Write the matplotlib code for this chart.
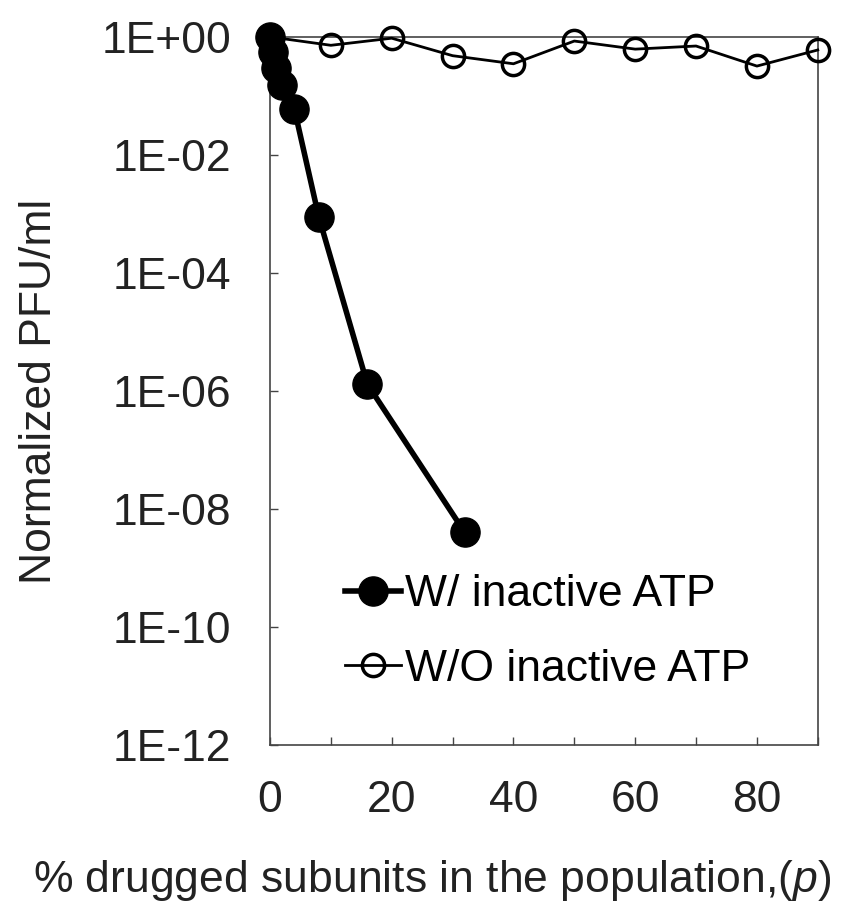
import matplotlib
matplotlib.use("Agg")
import matplotlib.pyplot as plt

plt.rcParams['font.family'] = ['Liberation Sans', 'DejaVu Sans']
plt.rcParams['mathtext.fontset'] = 'custom'
plt.rcParams['mathtext.it'] = 'Liberation Sans:italic'
plt.rcParams['mathtext.rm'] = 'Liberation Sans'

# data
x_with = [0, 0.5, 1, 2, 4, 8, 16, 32]
y_with = [1.0, 0.55, 0.3, 0.15, 0.06, 9e-4, 1.3e-6, 4e-9]

x_without = [0, 10, 20, 30, 40, 50, 60, 70, 80, 90]
y_without = [1.0, 0.72, 0.95, 0.48, 0.35, 0.85, 0.62, 0.7, 0.32, 0.6]

xticks = [0, 10, 20, 30, 40, 50, 60, 70, 80, 90]
xticklabels = ['0', '', '20', '', '40', '', '60', '', '80', '']
yticks = [1e0, 1e-2, 1e-4, 1e-6, 1e-8, 1e-10, 1e-12]
yticklabels = ['1E+00', '1E-02', '1E-04', '1E-06', '1E-08', '1E-10', '1E-12']

fig = plt.figure(figsize=(8.64, 9.22), dpi=100)
ax = fig.add_axes([0.3125, 0.192, 0.634, 0.768])

ax.plot(x_with, y_with, color='black', lw=4, marker='o', markersize=21,
        label='W/ inactive ATP', clip_on=False, zorder=4)
ax.plot(x_without, y_without, color='black', lw=2, marker='o', markersize=16,
        markerfacecolor='none', markeredgewidth=2.5,
        label='W/O inactive ATP', clip_on=False, zorder=3)

ax.set_yscale('log')
ax.set_ylim(1e-12, 1)
ax.set_xlim(0, 90)
ax.set_yticks(yticks)
ax.set_yticklabels(yticklabels)
ax.minorticks_off()
ax.set_xticks(xticks)
ax.set_xticklabels(xticklabels)

ax.tick_params(direction='in', length=6, width=1, colors='#444444',
               labelcolor='#222222', labelsize=32)
ax.tick_params(axis='x', pad=25)
ax.tick_params(axis='y', pad=28)
for sp in ax.spines.values():
    sp.set_color('#444444')
    sp.set_linewidth(1.2)
    sp.set_linestyle((0, (1, 1)))

ax.set_ylabel('Normalized PFU/ml', fontsize=32, color='#222222', labelpad=30)
fig.text(0.5, 0.045, r'% drugged subunits in the population,($\mathit{p}$)',
         fontsize=32, color='#222222', ha='center', va='center')

ax.legend(loc='lower left', bbox_to_anchor=(0.137, 0.078), frameon=False,
          fontsize=32, handlelength=1.25, handletextpad=0.1, labelspacing=0.75,
          borderpad=0, borderaxespad=0)

fig.savefig('out.png', dpi=100)
